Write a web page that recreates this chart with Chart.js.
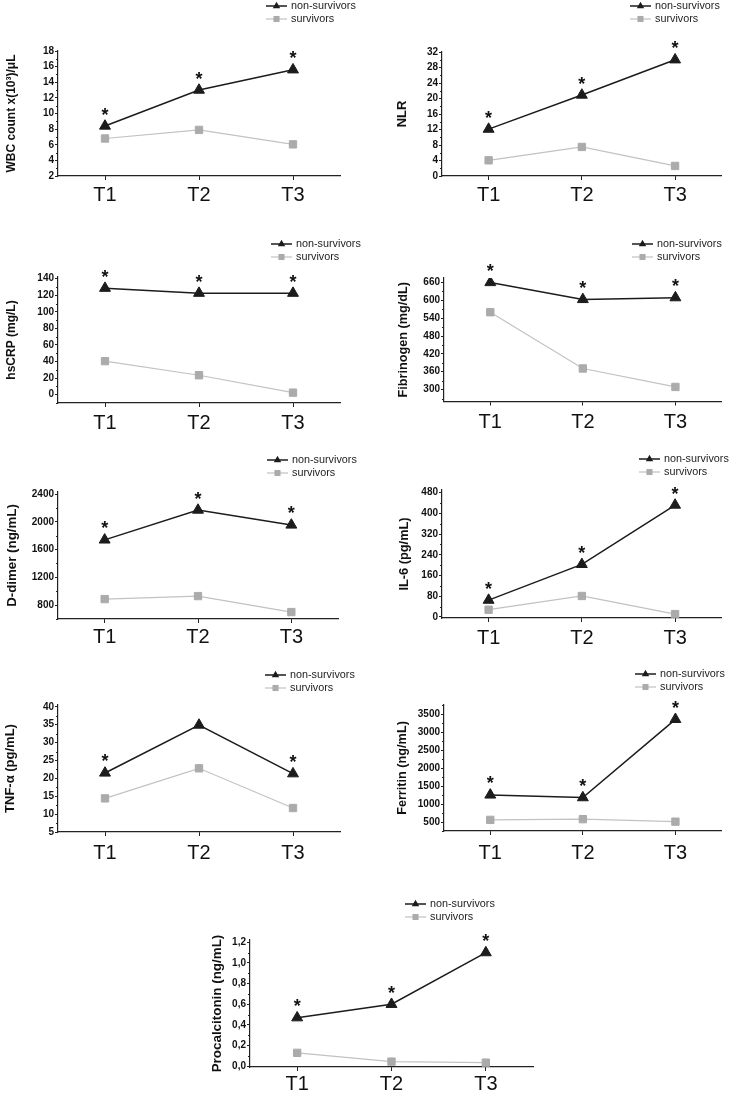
<!DOCTYPE html>
<html>
<head>
<meta charset="utf-8">
<script src="https://cdn.jsdelivr.net/npm/chart.js@4.4.1/dist/chart.umd.min.js"></script>
<style>
  body { margin: 0; background: #fff; width: 729px; height: 1096px; position: relative; overflow: hidden; }
  canvas { position: absolute; }
</style>
</head>
<body>
<script>
const times = ['T1', 'T2', 'T3'];

// values (non-survivors / survivors)
const wbcNon = [8.4, 13.0, 15.6];
const wbcSurv = [6.8, 7.9, 6.05];
const wbcTicks = [2, 4, 6, 8, 10, 12, 14, 16, 18];
const wbcStars = [true, true, true];

const nlrNon = [12.1, 20.9, 30.0];
const nlrSurv = [4.05, 7.5, 2.6];
const nlrTicks = [0, 4, 8, 12, 16, 20, 24, 28, 32];
const nlrStars = [true, true, true];

const crpNon = [128.5, 122.5, 122.5];
const crpSurv = [40.5, 23.5, 2.5];
const crpTicks = [0, 20, 40, 60, 80, 100, 120, 140];
const crpStars = [true, true, true];

const fibNon = [660, 603, 609];
const fibSurv = [560, 371, 309];
const fibTicks = [300, 360, 420, 480, 540, 600, 660];
const fibStars = [true, true, true];

const ddNon = [1740, 2170, 1955];
const ddSurv = [887, 930, 700];
const ddTicks = [800, 1200, 1600, 2000, 2400];
const ddStars = [true, true, true];

const il6Non = [65, 203, 432];
const il6Surv = [28, 81, 11];
const il6Ticks = [0, 80, 160, 240, 320, 400, 480];
const il6Stars = [true, true, true];

const tnfNon = [21.5, 34.9, 21.3];
const tnfSurv = [14.4, 22.8, 11.7];
const tnfTicks = [5, 10, 15, 20, 25, 30, 35, 40];
const tnfStars = [true, false, true];

const ferNon = [1255, 1180, 3360];
const ferSurv = [560, 580, 510];
const ferTicks = [500, 1000, 1500, 2000, 2500, 3000, 3500];
const ferStars = [true, true, true];

const pctNon = [0.47, 0.60, 1.10];
const pctSurv = [0.13, 0.045, 0.035];
const pctTicks = [0, 0.2, 0.4, 0.6, 0.8, 1.0, 1.2];
const pctStars = [true, true, true];

const FONT = 'Liberation Sans, Arial, sans-serif';

// layout: box = canvas [x0,y0,x1,y1], area = plot [left,top,right,bottom] in page px
const panels = [
  { title: 'WBC count x(10³)/μL', non: wbcNon, surv: wbcSurv, ticks: wbcTicks, stars: wbcStars,
    box: [0, 0, 364, 215], area: [58, 51, 340, 176], min: 2, max: 18, titleX: 12, titleSize: 12, legend: [266, 6], gap: 3 },
  { title: 'NLR', non: nlrNon, surv: nlrSurv, ticks: nlrTicks, stars: nlrStars,
    box: [365, 0, 729, 215], area: [442, 52, 727, 176], min: 0, max: 32, titleX: 402, titleSize: 13, legend: [630, 6], gap: 3 },
  { title: 'hsCRP (mg/L)', non: crpNon, surv: crpSurv, ticks: crpTicks, stars: crpStars,
    box: [0, 220, 364, 440], area: [58, 277, 340, 403], min: -10, max: 142, titleX: 12, titleSize: 12, legend: [271, 244], gap: 4 },
  { title: 'Fibrinogen (mg/dL)', non: fibNon, surv: fibSurv, ticks: fibTicks, stars: fibStars,
    box: [365, 220, 729, 440], area: [444, 278, 723, 401.5], min: 260, max: 675, titleX: 403, titleSize: 12.7, legend: [632, 244], gap: 5 },
  { title: 'D-dimer (ng/mL)', non: ddNon, surv: ddSurv, ticks: ddTicks, stars: ddStars,
    box: [0, 440, 364, 660], area: [58, 492, 338, 619], min: 600, max: 2430, titleX: 12, titleSize: 13.3, legend: [267, 460], gap: 2 },
  { title: 'IL-6 (pg/mL)', non: il6Non, surv: il6Surv, ticks: il6Ticks, stars: il6Stars,
    box: [365, 440, 729, 660], area: [442, 490, 727, 618], min: -4, max: 490, titleX: 404, titleSize: 12.8, legend: [639, 459], gap: 4 },
  { title: 'TNF-α (pg/mL)', non: tnfNon, surv: tnfSurv, ticks: tnfTicks, stars: tnfStars,
    box: [0, 660, 364, 880], area: [58, 705, 340, 832], min: 5, max: 40.5, titleX: 10, titleSize: 13, legend: [265, 675], gap: 5 },
  { title: 'Ferritin (ng/mL)', non: ferNon, surv: ferSurv, ticks: ferTicks, stars: ferStars,
    box: [365, 660, 729, 880], area: [444, 705, 723, 831], min: 250, max: 3760, titleX: 402, titleSize: 12.7, legend: [635, 674], gap: 6 },
  { title: 'Procalcitonin (ng/mL)', non: pctNon, surv: pctSurv, ticks: pctTicks, stars: pctStars, comma: true,
    box: [190, 880, 560, 1096], area: [250, 940, 533, 1067], min: -0.007, max: 1.222, titleX: 217, titleSize: 13.4, legend: [405, 904], gap: 1 }
];

panels.forEach(p => {
  const [x0, y0, x1, y1] = p.box;
  const [l, t, r, b] = p.area;
  const cv = document.createElement('canvas');
  cv.width = x1 - x0;
  cv.height = y1 - y0;
  cv.style.left = x0 + 'px';
  cv.style.top = y0 + 'px';
  document.body.appendChild(cv);

  // minor ticks, significance stars and the little legend
  const decor = {
    id: 'decor',
    afterDatasetsDraw(chart) {
      const ctx = chart.ctx;
      const ys = chart.scales.y;
      ctx.save();
      ctx.strokeStyle = '#222';
      ctx.lineWidth = 1;
      const step = p.ticks[1] - p.ticks[0];
      for (let i = -1; i < p.ticks.length; i++) {
        const v = p.ticks[0] + step * (i + 0.5);
        if (v < p.min || v > p.max) continue;
        const py = Math.round(ys.getPixelForValue(v)) + 0.5;
        ctx.beginPath();
        ctx.moveTo(ys.right - 2, py);
        ctx.lineTo(ys.right, py);
        ctx.stroke();
      }

      ctx.fillStyle = '#111';
      ctx.font = 'bold 18px ' + FONT;
      ctx.textAlign = 'center';
      ctx.textBaseline = 'alphabetic';
      chart.getDatasetMeta(0).data.forEach((pt, i) => {
        if (p.stars[i]) ctx.fillText('*', pt.x, pt.y - 5.5);
      });

      const lx = p.legend[0] - x0;
      const ly = p.legend[1] - y0;
      chart.data.datasets.forEach((ds, k) => {
        const y = ly + k * 13;
        ctx.strokeStyle = ds.borderColor;
        ctx.lineWidth = ds.borderWidth;
        ctx.beginPath();
        ctx.moveTo(lx, y);
        ctx.lineTo(lx + 21, y);
        ctx.stroke();
        ctx.fillStyle = ds.pointBackgroundColor;
        ctx.strokeStyle = ds.pointBorderColor;
        Chart.helpers.drawPoint(ctx, { pointStyle: ds.pointStyle, radius: 4.3, rotation: 0, borderWidth: 0 }, lx + 10.5, y);
        ctx.fillStyle = '#222';
        ctx.font = '10.8px ' + FONT;
        ctx.textAlign = 'left';
        ctx.textBaseline = 'middle';
        ctx.fillText(ds.label, lx + 25, y);
      });
      ctx.restore();
    }
  };

  new Chart(cv, {
    type: 'line',
    data: {
      labels: times,
      datasets: [
        {
          label: 'non-survivors',
          data: p.non,
          borderColor: '#1c1c1c',
          borderWidth: 1.5,
          pointStyle: 'triangle',
          pointRadius: 6.3,
          pointBackgroundColor: '#1c1c1c',
          pointBorderColor: '#1c1c1c',
          pointBorderWidth: 1
        },
        {
          label: 'survivors',
          data: p.surv,
          borderColor: '#c2c2c2',
          borderWidth: 1.2,
          pointStyle: 'rect',
          pointRadius: 5.2,
          pointBackgroundColor: '#ababab',
          pointBorderColor: '#ababab',
          pointBorderWidth: 1
        }
      ]
    },
    options: {
      responsive: false,
      animation: false,
      devicePixelRatio: 1,
      layout: { padding: { left: 0, top: t - y0, right: x1 - r, bottom: 0 } },
      plugins: { legend: { display: false }, tooltip: { enabled: false } },
      scales: {
        x: {
          offset: true,
          grid: { drawOnChartArea: false, offset: false, tickLength: 4, color: '#222' },
          border: { color: '#222', width: 1.2 },
          ticks: { font: { family: FONT, size: 20 }, color: '#111', padding: p.gap, maxRotation: 0 },
          afterFit: s => { s.height = y1 - b; }
        },
        y: {
          min: p.min,
          max: p.max,
          afterBuildTicks: s => { s.ticks = p.ticks.map(v => ({ value: v })); },
          grid: { drawOnChartArea: false, tickLength: 3, color: '#222' },
          border: { color: '#222', width: 1.2 },
          ticks: {
            font: { family: FONT, size: 10, weight: 'bold' },
            color: '#111',
            padding: 1,
            autoSkip: false,
            callback: v => p.comma ? v.toFixed(1).replace('.', ',') : String(v)
          },
          title: {
            display: true,
            text: p.title,
            color: '#111',
            font: { family: FONT, size: p.titleSize, weight: 'bold' },
            padding: { top: p.titleX - x0 - p.titleSize * 0.6, bottom: 0 }
          },
          afterFit: s => { s.width = l - x0; }
        }
      }
    },
    plugins: [decor]
  });
});
</script>
</body>
</html>
